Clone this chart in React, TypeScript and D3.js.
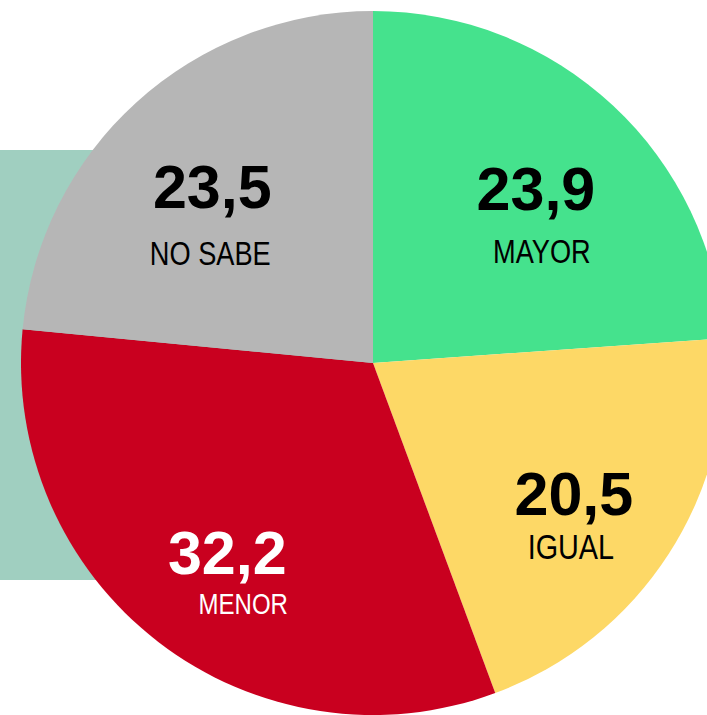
import React from "react";
import * as d3 from "d3";

const categories = ["MAYOR", "IGUAL", "MENOR", "NO SABE"];
const values = [23.9, 20.5, 32.2, 23.5];
const valueLabels = ["23,9", "20,5", "32,2", "23,5"];
const sliceColors = ["#45e28d", "#fdd866", "#c9001f", "#b6b6b6"];
const textColors = ["#000000", "#000000", "#ffffff", "#000000"];

// layout tweaks for the category labels (relative to value text)
const labelDx = [6, -3, 16, -2];
const labelDy = [53, 44, 40, 57];
const labelSize = [34, 36, 30, 34];

const W = 707;
const H = 715;
const cx = 373;
const cy = 363;
const R = 352;

export default function App() {
  const data = categories.map((c, i) => ({ c, v: values[i], i }));
  const pie = d3.pie<any>().value((d) => d.v).sort(null);
  const arcs = pie(data);
  const arc = d3.arc<any>().innerRadius(0).outerRadius(R);
  const labelArc = d3.arc<any>().innerRadius(239).outerRadius(239);

  return (
    <svg
      width={W}
      height={H}
      style={{ position: "absolute", left: 0, top: 0, background: "#ffffff" }}
    >
      <rect x={0} y={150} width={cx} height={430} fill="#a0cfc0" />
      <g transform={`translate(${cx},${cy})`}>
        {arcs.map((a, i) => (
          <path key={i} d={arc(a) as string} fill={sliceColors[i]} />
        ))}
        {arcs.map((a, i) => {
          const [x, y] = labelArc.centroid(a);
          const base = y + 22;
          return (
            <g key={"t" + i}>
              <text
                x={x}
                y={base}
                textAnchor="middle"
                fontFamily="'Liberation Sans', Arial, sans-serif"
                fontWeight="bold"
                fontSize={61}
                fill={textColors[i]}
              >
                {valueLabels[i]}
              </text>
              <g transform={`translate(${x + labelDx[i]},${base + labelDy[i]}) scale(0.8,1)`}>
                <text
                  x={0}
                  y={0}
                  textAnchor="middle"
                  fontFamily="'Liberation Sans Narrow', 'Liberation Sans', Arial, sans-serif"
                  fontSize={labelSize[i]}
                  fill={textColors[i]}
                >
                  {categories[i]}
                </text>
              </g>
            </g>
          );
        })}
      </g>
    </svg>
  );
}
